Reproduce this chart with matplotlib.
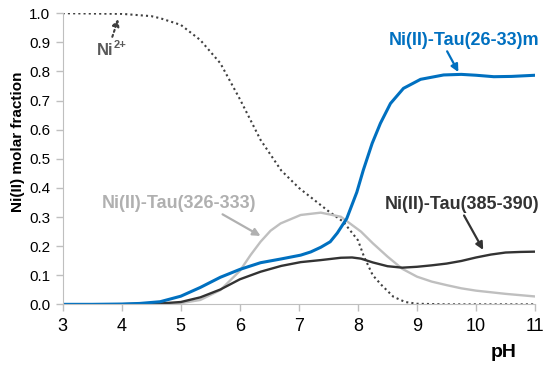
import matplotlib
matplotlib.use("Agg")
import matplotlib.pyplot as plt
import numpy as np

plt.rcParams['font.family'] = ['Liberation Sans', 'DejaVu Sans']

# data
ph_blue = [3, 3.5, 4, 4.3, 4.65, 5, 5.33, 5.67, 6, 6.35, 6.7, 7.03, 7.2, 7.37, 7.53, 7.65,
           7.81, 7.98, 8.09, 8.24, 8.38, 8.55, 8.77, 9.06, 9.45, 9.75, 10, 10.3, 10.6, 11]
tau_26_33m = [0, 0, 0.001, 0.003, 0.009, 0.028, 0.058, 0.093, 0.12, 0.143, 0.156, 0.169,
              0.18, 0.196, 0.215, 0.245, 0.295, 0.385, 0.461, 0.553, 0.622, 0.69, 0.742,
              0.773, 0.788, 0.79, 0.787, 0.782, 0.783, 0.787]

ph_dark = [3, 4, 4.65, 5, 5.33, 5.67, 6, 6.35, 6.7, 7.03, 7.37, 7.71, 7.9, 8.05, 8.25, 8.5,
           8.75, 9, 9.25, 9.5, 9.75, 10, 10.25, 10.5, 10.75, 11]
tau_385_390 = [0, 0.0005, 0.003, 0.008, 0.024, 0.051, 0.086, 0.112, 0.132, 0.145, 0.152,
               0.16, 0.161, 0.157, 0.144, 0.131, 0.126, 0.129, 0.134, 0.14, 0.149, 0.161,
               0.171, 0.178, 0.18, 0.181]

ph_gray = [3, 4.5, 5, 5.33, 5.67, 6, 6.18, 6.35, 6.52, 6.69, 7.03, 7.37, 7.71, 8.05, 8.25,
           8.5, 8.75, 9, 9.25, 9.5, 9.75, 10, 10.5, 11]
tau_326_333 = [0, 0.001, 0.004, 0.015, 0.049, 0.115, 0.169, 0.215, 0.253, 0.278, 0.307,
               0.315, 0.301, 0.25, 0.21, 0.164, 0.122, 0.095, 0.078, 0.066, 0.055, 0.047,
               0.036, 0.027]

ph_free = [3, 4, 4.5, 4.65, 5, 5.33, 5.67, 6, 6.35, 6.7, 7, 7.25, 7.5, 7.75, 8, 8.1, 8.25,
           8.4, 8.6, 8.8, 9, 9.5, 11]
ni_free = [1.0, 0.998, 0.99, 0.983, 0.96, 0.908, 0.828, 0.705, 0.565, 0.46, 0.40, 0.36,
           0.32, 0.284, 0.22, 0.165, 0.10, 0.066, 0.026, 0.008, 0.002, 0, 0]

blue = '#0070C0'
dark = '#404040'
light = '#BFBFBF'

fig = plt.figure(figsize=(5.5, 3.68), dpi=100)
ax = fig.add_axes([0.114, 0.173, 0.859, 0.791])

ax.plot(ph_free, ni_free, color=dark, lw=1.5, ls=(0, (1, 1.5)))
ax.plot(ph_gray, tau_326_333, color=light, lw=1.7)
ax.plot(ph_dark, tau_385_390, color='#333333', lw=1.7)
ax.plot(ph_blue, tau_26_33m, color=blue, lw=2.2)

ax.set_xlim(3, 11)
ax.set_ylim(0, 1.0)
ax.set_xticks(range(3, 12))
ax.set_yticks(np.arange(0, 1.01, 0.1))
ax.set_yticklabels([f'{v:.1f}' for v in np.arange(0, 1.01, 0.1)])
ax.spines[['top', 'right']].set_visible(False)
ax.spines[['left', 'bottom']].set_color(light)
ax.tick_params(axis='both', color=light, length=5, width=1)
ax.tick_params(axis='y', labelsize=11, pad=4)
ax.tick_params(axis='x', labelsize=13, pad=5)

fig.text(0.033, 0.614, 'Ni(II) molar fraction', rotation=90, fontsize=11,
         fontweight='bold', ha='center', va='center')
ax.text(10.46, -0.164, 'pH', fontsize=14, fontweight='bold', ha='center', va='center',
        clip_on=False)

arrow = dict(arrowstyle='-|>', lw=1.6, mutation_scale=11, shrinkA=0, shrinkB=0)

ax.annotate('Ni(II)-Tau(26-33)m', xy=(9.70, 0.798), xytext=(9.79, 0.908),
            fontsize=13, fontweight='bold', color=blue, ha='center', va='center',
            arrowprops=dict(arrow, color=blue, relpos=(0.38, 0)))
ax.annotate('Ni(II)-Tau(326-333)', xy=(6.35, 0.235), xytext=(4.97, 0.348),
            fontsize=13, fontweight='bold', color='#B0B0B0', ha='center', va='center',
            arrowprops=dict(arrow, color='#B0B0B0', relpos=(0.75, 0)))
ax.annotate('Ni(II)-Tau(385-390)', xy=(10.12, 0.187), xytext=(9.77, 0.344),
            fontsize=13, fontweight='bold', color='#333333', ha='center', va='center',
            arrowprops=dict(arrow, color='#333333', relpos=(0.5, 0)))

ax.annotate('', xy=(3.94, 0.98), xytext=(3.84, 0.919),
            arrowprops=dict(arrowstyle='-|>', lw=1.5, ls=(0, (1, 1.5)), color=dark,
                            mutation_scale=10, shrinkA=0, shrinkB=0))
ax.text(3.58, 0.857, 'Ni', fontsize=12, fontweight='bold', color='#595959',
        ha='left', va='baseline')
ax.text(3.855, 0.88, '2+', fontsize=8, fontweight='bold', color='#595959',
        ha='left', va='baseline')

fig.savefig('out.png', dpi=100)
